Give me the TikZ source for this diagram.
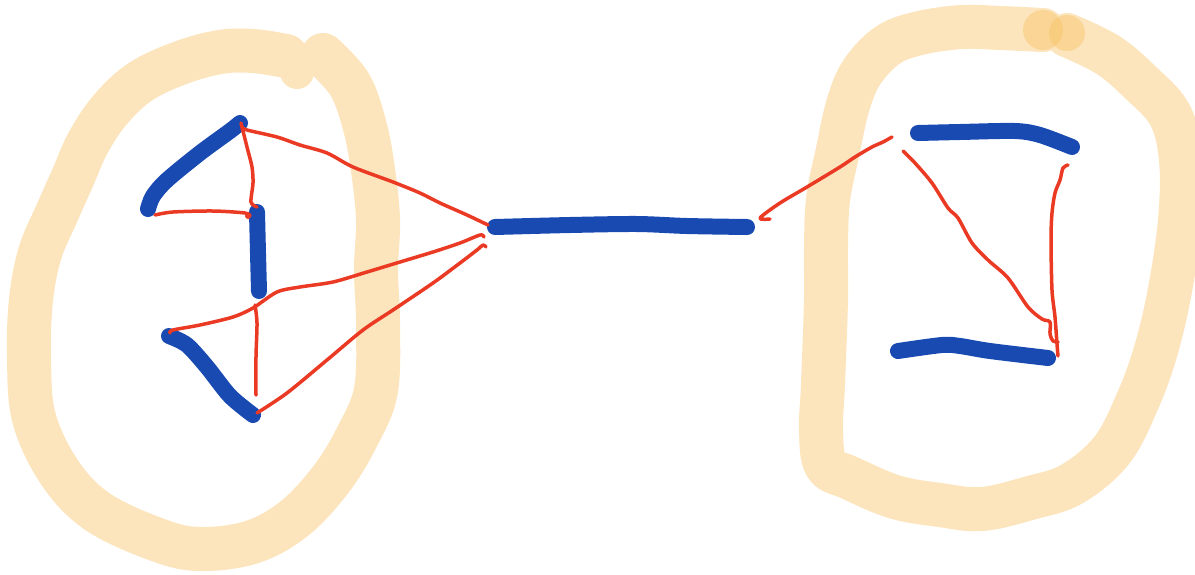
\documentclass[tikz,border=0pt]{standalone}
\definecolor{ringc}{RGB}{249,195,100}
\definecolor{ringlight}{RGB}{252,228,188}
\definecolor{bluec}{RGB}{24,74,178}
\definecolor{redc}{RGB}{235,58,36}
\tikzset{
  ring/.style={draw=ringlight, line width=44pt, line cap=round, line join=round},
  dab/.style={fill=ringc, fill opacity=0.44},
  bluestroke/.style={draw=bluec, line width=16pt, line cap=round, line join=round},
  redstroke/.style={draw=redc, line width=3.5pt, line cap=round, line join=round},
}
\begin{document}
\begin{tikzpicture}[x=1pt,y=-1pt]
\useasboundingbox (0,0) rectangle (1195,574);
% left ring
\draw[ring] plot[smooth, tension=0.6] coordinates {(286,56) (253,51) (220,52) (180,63) (140,82) (110,110) (88,143) (73,177) (57,213) (40,253) (31,300) (29,357) (34,418) (60,473) (98,512) (158,540) (200,549) (252,542) (295,518) (332,478) (358,435) (376,390) (378,323) (376,270) (378,220) (373,170) (365,127) (350,85) (323,55)};
\fill[ringlight] (297,72) circle[radius=17pt];
% right ring
\draw[ring] plot[smooth, tension=0.6] coordinates {(1043,30) (1000,28) (962,27) (920,33) (888,45) (862,72) (848,105) (838,150) (828,200) (826,250) (826,300) (823,384) (821,430) (826,465) (850,478) (895,497) (940,505) (982,509) (1030,498) (1072,484) (1112,450) (1138,400) (1156,350) (1170,290) (1180,220) (1181,160) (1170,115) (1140,82) (1108,55) (1067,35)};
\fill[dab] (1043,30) circle[radius=20pt];
\fill[dab] (1067,33) circle[radius=18pt];
% blue strokes
\draw[bluestroke] plot[smooth] coordinates {(240,123) (230,131) (200,153) (167,180) (153,196) (148,209)};
\draw[bluestroke] plot[smooth] coordinates {(257,212) (258,253) (259,291)};
\draw[bluestroke] plot[smooth] coordinates {(169,336) (187,345) (207,367) (230,396) (253,415)};
\draw[bluestroke] plot[smooth] coordinates {(495,227) (570,225) (637,224) (687,226) (747,227)};
\draw[bluestroke] plot[smooth] coordinates {(918,133) (960,132) (1015,131) (1040,135) (1072,147)};
\draw[bluestroke] plot[smooth] coordinates {(898,351) (942,345) (960,346) (990,351) (1048,358)};
% red strokes left
\draw[redstroke] plot[smooth] coordinates {(242,127) (247,130) (277,137) (300,145) (327,153) (353,167) (393,182) (420,193) (440,203) (467,215) (488,225)};
\draw[redstroke] plot[smooth] coordinates {(241,123) (247,147) (252,167) (253,183) (251,202) (257,207)};
\draw[redstroke] plot[smooth] coordinates {(155,215) (173,212) (213,211) (245,213) (250,216)};
\fill[redc] (248,216) circle[radius=3pt];
\draw[redstroke] plot[smooth] coordinates {(170,333) (173,330) (200,325) (233,317) (253,308) (277,292) (300,287) (333,282) (367,272) (400,262) (433,252) (460,243) (480,235) (484,237)};
\draw[redstroke] plot[smooth] coordinates {(255,305) (257,323) (256,357) (256,395)};
\draw[redstroke] plot[smooth] coordinates {(257,413) (287,393) (327,360) (363,330) (393,310) (433,283) (460,263) (477,250) (483,245) (486,247)};
% red strokes right
\draw[redstroke] plot[smooth] coordinates {(892,137) (883,142) (872,147) (855,157) (840,167) (807,187) (780,203) (760,218) (770,219)};
\draw[redstroke] plot[smooth] coordinates {(903,151) (915,163) (932,183) (948,208) (958,218) (972,243) (988,260) (1008,278) (1028,307) (1042,319) (1050,322) (1050,334) (1053,341) (1058,342)};
\draw[redstroke] plot[smooth] coordinates {(1068,165) (1063,168) (1060,180) (1055,193) (1052,213) (1051,240) (1052,290) (1055,317) (1057,344) (1058,356)};
\end{tikzpicture}
\end{document}
